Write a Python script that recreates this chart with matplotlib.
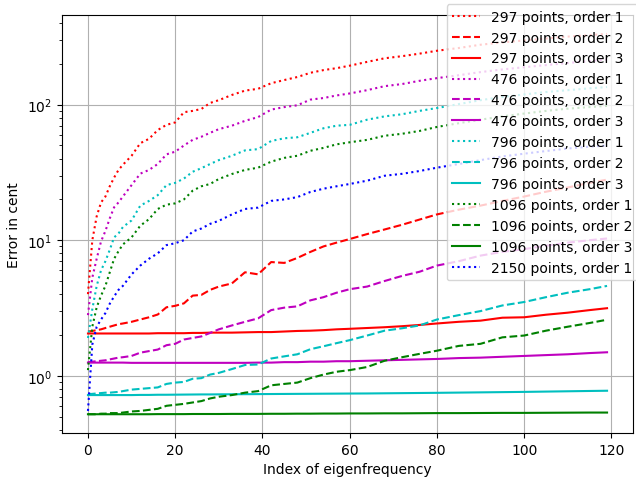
import matplotlib
matplotlib.use("Agg")
import matplotlib.pyplot as plt

# eigenfrequency indices where values were read
idx = [0, 1, 2, 3, 4, 5, 6, 7, 8, 10, 12, 14, 16, 18, 20, 22, 24, 26, 28, 30,
       33, 36, 39, 42, 45, 48, 51, 54, 57, 60, 64, 68, 72, 76, 80, 85, 90, 95,
       100, 105, 110, 115, 119]

# 297 points
p297_o1 = [4, 10, 15, 19, 21, 25, 29, 33, 36, 42, 52, 56, 65, 71, 74, 88, 90, 93, 103, 108,
           118, 127, 131, 144, 152, 160, 172, 180, 186, 194, 207, 220, 228, 238, 250, 262, 277, 288,
           298, 308, 318, 326, 333]
p297_o2 = [2.12, 2.14, 2.17, 2.2, 2.25, 2.3, 2.35, 2.4, 2.43, 2.5, 2.6, 2.7, 2.83, 3.2, 3.28, 3.42, 3.9, 3.95, 4.3, 4.55,
           4.8, 5.8, 5.6, 6.9, 6.8, 7.4, 8.2, 9.0, 9.6, 10.2, 11.1, 12.0, 13.0, 14.2, 15.5, 16.8, 18.0, 19.5,
           21.0, 22.8, 24.5, 26.5, 28.0]
p297_o3 = [2.05, 2.05, 2.05, 2.05, 2.05, 2.05, 2.05, 2.05, 2.05, 2.05, 2.05, 2.05, 2.06, 2.06, 2.06, 2.06, 2.07, 2.07, 2.08, 2.08,
           2.08, 2.09, 2.1, 2.1, 2.12, 2.14, 2.15, 2.17, 2.2, 2.22, 2.25, 2.28, 2.32, 2.37, 2.43, 2.5, 2.55, 2.68,
           2.7, 2.82, 2.92, 3.05, 3.15]

# 476 points
p476_o1 = [2.8, 5.3, 7.3, 9.8, 11.7, 14.5, 17.5, 19, 21, 25.5, 31, 33, 36.5, 43, 45, 50, 55, 58, 62, 66,
           70, 76, 81, 92, 96, 99, 109, 112, 117, 121, 128, 137, 142, 150, 157, 165, 174, 182,
           189, 196, 203, 210, 215]
p476_o2 = [1.26, 1.27, 1.28, 1.29, 1.3, 1.32, 1.34, 1.36, 1.37, 1.4, 1.48, 1.52, 1.56, 1.68, 1.72, 1.85, 1.9, 1.95, 2.07, 2.2,
           2.35, 2.5, 2.65, 3.05, 3.18, 3.25, 3.6, 3.8, 4.1, 4.35, 4.55, 5.0, 5.45, 5.85, 6.5, 7.0, 7.7, 8.2,
           8.6, 9.1, 9.6, 10.0, 10.3]
p476_o3 = [1.25, 1.25, 1.25, 1.25, 1.25, 1.25, 1.25, 1.25, 1.25, 1.245, 1.245, 1.245, 1.245, 1.245, 1.245, 1.245, 1.245, 1.245, 1.245, 1.245,
           1.245, 1.245, 1.25, 1.25, 1.26, 1.26, 1.27, 1.27, 1.28, 1.28, 1.29, 1.3, 1.31, 1.32, 1.33, 1.35, 1.36, 1.38,
           1.4, 1.42, 1.44, 1.47, 1.49]

# 796 points
p796_o1 = [1.9, 3.1, 4.6, 6.0, 7.0, 8.5, 10.5, 11.2, 12.5, 14, 18, 19.5, 21.5, 25.5, 26.5, 28.5, 32, 34, 36.5, 39,
           42, 46, 47, 54, 56.5, 57.5, 62, 67, 70, 71, 77.5, 82, 85, 90, 94.5, 101, 108, 114,
           119, 124, 128, 132, 135]
p796_o2 = [0.73, 0.735, 0.74, 0.745, 0.75, 0.75, 0.755, 0.76, 0.77, 0.79, 0.8, 0.81, 0.82, 0.87, 0.89, 0.9, 0.95, 0.96, 1.02, 1.05,
           1.12, 1.2, 1.21, 1.34, 1.39, 1.44, 1.57, 1.65, 1.74, 1.83, 1.98, 2.15, 2.24, 2.35, 2.6, 2.8, 3.0, 3.3,
           3.5, 3.8, 4.1, 4.35, 4.6]
p796_o3 = [0.72, 0.72, 0.72, 0.72, 0.72, 0.72, 0.72, 0.72, 0.72, 0.72, 0.722, 0.722, 0.724, 0.724, 0.725, 0.726, 0.727, 0.728, 0.728, 0.729,
           0.73, 0.731, 0.732, 0.733, 0.734, 0.735, 0.736, 0.737, 0.738, 0.739, 0.74, 0.742, 0.744, 0.746, 0.748, 0.751, 0.754, 0.757,
           0.76, 0.764, 0.768, 0.772, 0.775]

# 1096 points
p1096_o1 = [1.1, 2.3, 3.2, 3.9, 4.6, 5.8, 7.3, 8.3, 9.3, 10.5, 12.8, 14.3, 17, 18.3, 18.7, 20, 23.2, 25, 26, 28.3,
            30.8, 33, 34.3, 38, 40.5, 42, 45.7, 48, 51, 52.8, 55, 59, 61, 64, 68.5, 73, 77.5, 82,
            86, 90, 93.5, 96, 98]
p1096_o2 = [0.52, 0.52, 0.52, 0.525, 0.525, 0.53, 0.53, 0.53, 0.535, 0.545, 0.55, 0.56, 0.57, 0.6, 0.61, 0.62, 0.635, 0.65, 0.68, 0.7,
            0.72, 0.75, 0.77, 0.85, 0.87, 0.89, 0.96, 1.02, 1.07, 1.1, 1.16, 1.29, 1.37, 1.45, 1.53, 1.66, 1.72, 1.92,
            1.98, 2.15, 2.3, 2.45, 2.59]
p1096_o3 = [0.52, 0.52, 0.52, 0.52, 0.52, 0.52, 0.52, 0.52, 0.52, 0.52, 0.52, 0.52, 0.521, 0.521, 0.521, 0.521, 0.522, 0.522, 0.522, 0.522,
            0.523, 0.523, 0.523, 0.524, 0.524, 0.525, 0.525, 0.526, 0.526, 0.527, 0.527, 0.528, 0.528, 0.529, 0.53, 0.53, 0.531, 0.532,
            0.532, 0.533, 0.534, 0.535, 0.535]

# 2150 points
p2150_o1 = [0.55, 1.7, 2.3, 2.6, 2.9, 3.4, 3.85, 4.3, 4.6, 5.6, 6.5, 7.3, 8.0, 9.2, 9.5, 10.0, 11.6, 12.2, 13.2, 13.9,
            15.5, 17, 17.4, 19.5, 20, 20.8, 22.7, 24, 25, 26, 27.5, 29.9, 30.9, 32.4, 34.3, 36.5, 39, 41.5,
            43.5, 45.5, 47.5, 49, 50]

series = [
    (p297_o1, 'r:', '297 points, order 1'),
    (p297_o2, 'r--', '297 points, order 2'),
    (p297_o3, 'r-', '297 points, order 3'),
    (p476_o1, 'm:', '476 points, order 1'),
    (p476_o2, 'm--', '476 points, order 2'),
    (p476_o3, 'm-', '476 points, order 3'),
    (p796_o1, 'c:', '796 points, order 1'),
    (p796_o2, 'c--', '796 points, order 2'),
    (p796_o3, 'c-', '796 points, order 3'),
    (p1096_o1, 'g:', '1096 points, order 1'),
    (p1096_o2, 'g--', '1096 points, order 2'),
    (p1096_o3, 'g-', '1096 points, order 3'),
    (p2150_o1, 'b:', '2150 points, order 1'),
]

fig = plt.figure(figsize=(6.36, 4.81), dpi=100)
ax = fig.add_axes([62/636, 47/481, 571/636, 418/481])

for vals, style, lab in series:
    ax.semilogy(idx, vals, style, label=lab)

ax.set_xlim(-5.95, 124.95)
ax.set_ylim(0.378, 459)
ax.grid(True)
ax.set_xlabel('Index of eigenfrequency')
ax.set_ylabel('Error in cent')

fig.legend(loc='upper right', bbox_to_anchor=(638/636, 1 - 5/481),
           bbox_transform=fig.transFigure, borderaxespad=0)

plt.savefig('out.png', dpi=100)
